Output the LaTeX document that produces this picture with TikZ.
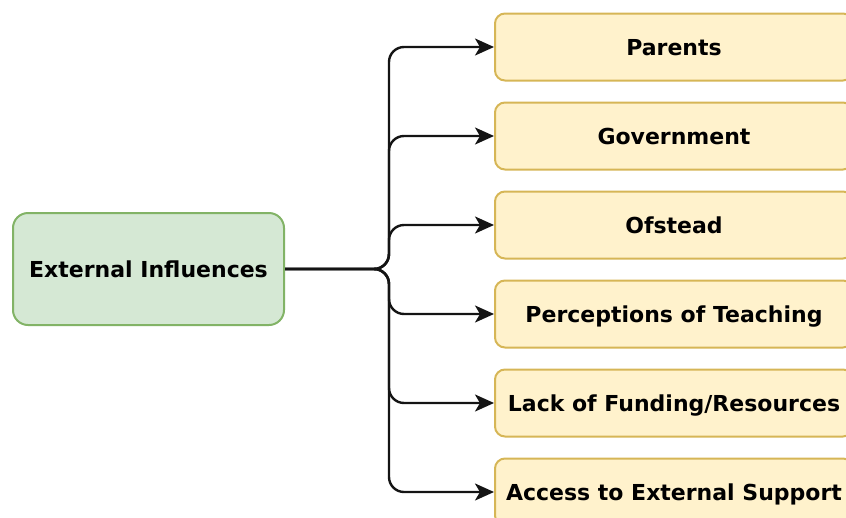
\documentclass[tikz,border=0pt]{standalone}
\usepackage{fontspec}
\setmainfont{DejaVu Sans}
\usetikzlibrary{arrows.meta}
\definecolor{gfill}{HTML}{D5E8D4}
\definecolor{gdraw}{HTML}{82B366}
\definecolor{yfill}{HTML}{FFF2CC}
\definecolor{ydraw}{HTML}{D6B656}
\definecolor{lnc}{HTML}{141414}
\tikzset{
  rootbox/.style={draw=gdraw, fill=gfill, line width=2pt, rounded corners=15pt,
    minimum width=271pt, minimum height=112pt, inner sep=0pt,
    text height=16pt, text depth=0pt,
    font=\fontsize{22}{26}\selectfont\bfseries},
  leafbox/.style={draw=ydraw, fill=yfill, line width=2pt, rounded corners=10pt,
    minimum width=358pt, minimum height=67pt, inner sep=0pt,
    text height=16pt, text depth=0pt,
    font=\fontsize{22}{26}\selectfont\bfseries},
  conn/.style={draw=lnc, line width=2.4pt, rounded corners=15pt,
    -{Stealth[length=19pt,width=17pt,inset=5pt]}}
}
\begin{document}
\begin{tikzpicture}[x=1pt,y=-1pt]
\useasboundingbox (0,0) rectangle (846,517);
\clip (0,0) rectangle (846,517);
\node[rootbox] (root) at (148.5,269) {External Influences};
\node[leafbox] (b1) at (674,47) {Parents};
\node[leafbox] (b2) at (674,136) {Government};
\node[leafbox] (b3) at (674,225) {Ofstead};
\node[leafbox] (b4) at (674,314) {Perceptions of Teaching};
\node[leafbox] (b5) at (674,403) {Lack of Funding/Resources};
\node[leafbox] (b6) at (674,492) {Access to External Support};
\coordinate (T) at (389,269);
\foreach \b in {b1,b2,b3,b4,b5,b6}{
  \draw[conn] (root.east) -- (T) |- (\b.west);
}
\end{tikzpicture}
\end{document}
